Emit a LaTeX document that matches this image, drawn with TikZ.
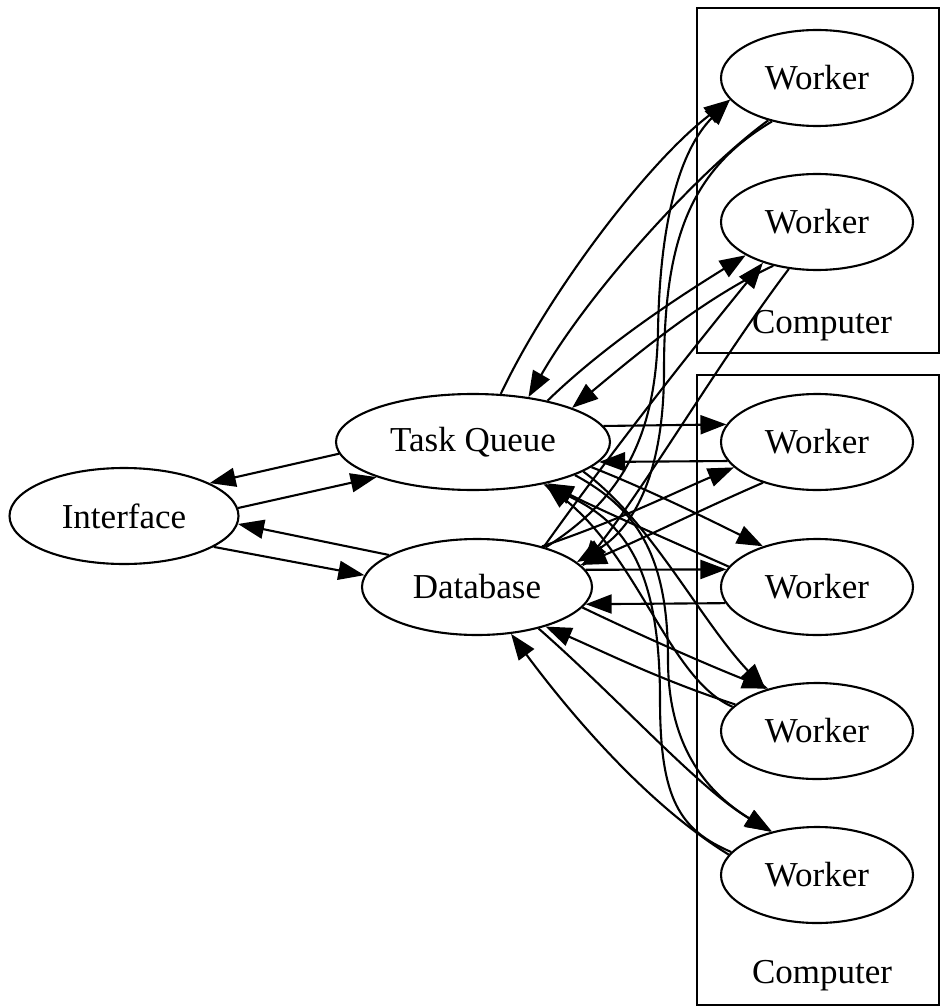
\documentclass[tikz,border=0pt]{standalone}
\usepackage{fontspec}
\setmainfont{Liberation Serif}
\usetikzlibrary{shapes.geometric,arrows.meta}

\begin{document}
\begin{tikzpicture}[x=1pt,y=-1pt,
  proc/.style={ellipse, draw, line width=2.1pt, inner sep=0pt,
    font=\fontsize{35}{42}\selectfont},
  worker/.style={proc, minimum width=192pt, minimum height=96pt},
  cluster/.style={draw, line width=2.1pt},
  clabel/.style={font=\fontsize{35}{42}\selectfont},
  edge/.style={line width=2.1pt, -{Triangle[length=26pt,width=19pt]}}]

\useasboundingbox (0,0) rectangle (940,1008);
\fill[white] (0,0) rectangle (940,1008);

% the two computers
\draw[cluster] (697,8) rectangle (939,353);
\node[clabel] (lab1) at (822,326) {Computer};
\draw[cluster] (697,375) rectangle (939,1005);
\node[clabel] (lab2) at (822,976) {Computer};

% nodes
\node[proc, minimum width=229pt, minimum height=96pt] (iface) at (124,516) {Interface};
\node[proc, minimum width=274pt, minimum height=96pt] (tq) at (473,442) {Task Queue};
\node[proc, minimum width=230pt, minimum height=96pt] (db) at (477,587) {Database};
\node[worker] (w1) at (817,78)  {Worker};
\node[worker] (w2) at (817,222) {Worker};
\node[worker] (w3) at (817,442) {Worker};
\node[worker] (w4) at (817,587) {Worker};
\node[worker] (w5) at (817,731) {Worker};
\node[worker] (w6) at (817,875) {Worker};

% interface links
\draw[edge] (tq.185.6) -- (iface.21.2);
\draw[edge] (iface.4.1) -- (tq.200.7);
\draw[edge] (db.160.2) -- (iface.-4.6);
\draw[edge] (iface.-19.1) -- (db.174.9);

% worker 1
\draw[edge] (tq.60.2) .. controls (550,290) and (650,160) .. (w1.194.5);
\draw[edge] (db.30) .. controls (620,500) and (656,440) .. (658,330)
  .. controls (660,220) and (680,150) .. (w1.194.5);
\draw[edge] (w1.221) .. controls (700,170) and (590,290) .. (tq.39.2);
\draw[edge] (w1.224) .. controls (690,170) and (664,240) .. (664,370)
  .. controls (664,480) and (630,530) .. (db.14);

% worker 2
\draw[edge] (tq.29.5) .. controls (610,340) and (690,290) .. (w2.205.3);
\draw[edge] (db.31) .. controls (620,440) and (700,340) .. (w2.217);
\draw[edge] (w2.225) .. controls (700,300) and (630,360) .. (tq.19.3);
\draw[edge] (w2.239) .. controls (720,360) and (650,480) .. (db.11);

% worker 3
\draw[edge] (tq.7.6) -- (w3.169.3);
\draw[edge] (w3.192.9) -- (tq.-9.1);
\draw[edge] (db.32) .. controls (620,520) and (680,490) .. (w3.197);
\draw[edge] (w3.217) .. controls (700,510) and (640,540) .. (db.12);

% worker 4
\draw[edge] (tq.-12.1) .. controls (650,490) and (720,525) .. (w4.143);
\draw[edge] (w4.167.1) .. controls (680,545) and (600,510) .. (tq.-29.5);
\draw[edge] (db.9) -- (w4.169.3);
\draw[edge] (w4.190.6) -- (db.-9.6);

% worker 5
\draw[edge] (tq.-15.7) .. controls (650,520) and (700,620) .. (w5.141);
\draw[edge] (db.-11.7) .. controls (650,640) and (720,670) .. (w5.139);
\draw[edge] (w5.164) .. controls (670,680) and (640,560) .. (tq.-30);
\draw[edge] (w5.162) .. controls (660,680) and (600,650) .. (db.-30.8);

% worker 6
\draw[edge] (tq.-18.3) .. controls (640,510) and (668,560) .. (668,660)
  .. controls (668,760) and (720,800) .. (w6.137.6);
\draw[edge] (db.-34.3) .. controls (620,700) and (700,790) .. (w6.136);
\draw[edge] (w6.165.5) .. controls (680,830) and (660,800) .. (660,700)
  .. controls (660,560) and (620,520) .. (tq.-31);
\draw[edge] (w6.167) .. controls (640,800) and (560,700) .. (db.-54.3);

\end{tikzpicture}
\end{document}
